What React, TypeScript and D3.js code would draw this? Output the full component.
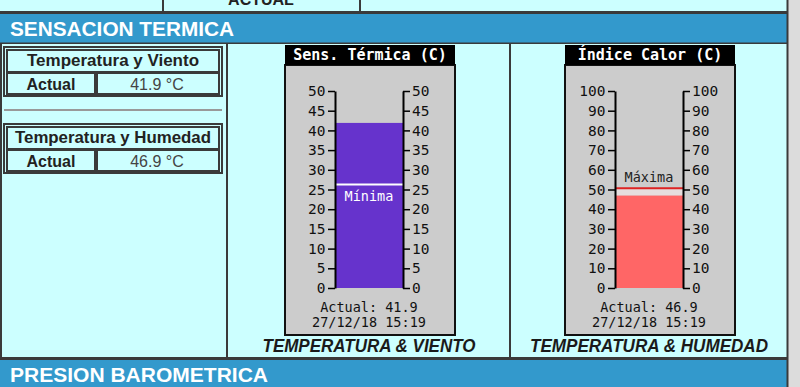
import React, { useEffect, useRef } from "react";
import * as d3 from "d3";

// ---- data ----
const sectionTitles = ["SENSACION TERMICA", "PRESION BAROMETRICA"];
const topLabel = "ACTUAL";
const tableTitles = ["Temperatura y Viento", "Temperatura y Humedad"];
const tableRowLabel = "Actual";
const tableValues = ["41.9 °C", "46.9 °C"];
const thermoTitles = ["Sens. Térmica (C)", "Índice Calor (C)"];
const thermoMax = [50, 100];
const thermoStep = [5, 10];
const actualValues = [41.9, 46.9];
const markerValues = [26.3, 50.6];
const markerLabels = ["Mínima", "Máxima"];
const timestamps = ["27/12/18 15:19", "27/12/18 15:19"];
const captions = ["TEMPERATURA & VIENTO", "TEMPERATURA & HUMEDAD"];

const CYAN = "#ccffff";
const BLUE = "#3399cc";
const DARK = "#3a3a3a";
const MONO = "'DejaVu Sans Mono', monospace";
const SANS = "'Liberation Sans', Arial, sans-serif";

const thermoX = [285, 565];
const barColors = ["#6633cc", "#ff6666"];

function Thermo({ i }: { i: number }) {
  const ref = useRef<SVGGElement>(null);
  const x0 = thermoX[i];
  const w = 170;
  const cx = x0 + 84;
  const axL = x0 + 50;
  const axR = x0 + 118;
  const y = d3.scaleLinear().domain([0, thermoMax[i]]).range([288, 91]);
  const ticks = d3.range(0, thermoMax[i] + 0.001, thermoStep[i]);

  useEffect(() => {
    const g = d3.select(ref.current);
    g.selectAll("*").remove();
    const style = (sel: any) => {
      sel.select(".domain").attr("stroke", "#000").attr("stroke-width", 2);
      sel.selectAll(".tick line").attr("stroke", "#000").attr("stroke-width", 1.5);
      sel.selectAll(".tick text")
        .attr("fill", "#111")
        .style("font-family", MONO)
        .style("font-size", "14.5px");
    };
    const left = g.append("g").attr("transform", `translate(${axL},0)`)
      .call(d3.axisLeft(y).tickValues(ticks).tickSize(7).tickSizeOuter(0).tickPadding(2.5).tickFormat(d3.format("d")) as any);
    style(left);
    const right = g.append("g").attr("transform", `translate(${axR},0)`)
      .call(d3.axisRight(y).tickValues(ticks).tickSize(7).tickSizeOuter(0).tickPadding(2).tickFormat(d3.format("d")) as any);
    style(right);
  }, [i]);

  const yA = y(actualValues[i]);
  const yM = y(markerValues[i]);
  const isMin = i === 0;
  return (
    <g>
      <rect x={x0} y={65} width={w} height={270} fill="#cccccc" stroke="#111" strokeWidth={2} />
      <rect x={x0} y={45} width={w} height={20} fill="#000" />
      <text x={x0 + w / 2} y={60} textAnchor="middle" fill="#fff" fontFamily={MONO} fontWeight="bold" fontSize={15}>
        {thermoTitles[i]}
      </text>
      {!isMin && (
        <rect x={axL} y={yM} width={axR - axL} height={yA - yM} fill="#e6dede" />
      )}
      <rect x={axL} y={yA} width={axR - axL} height={y(0) - yA} fill={barColors[i]} />
      <line x1={axL} x2={axR} y1={yM} y2={yM} stroke={isMin ? "#ffffff" : "#dd2222"} strokeWidth={2} />
      <text x={cx} y={isMin ? yM + 17 : yM - 6} textAnchor="middle" fill={isMin ? "#ffffff" : "#222"} fontFamily={MONO} fontSize={13.5}>
        {markerLabels[i]}
      </text>
      <g ref={ref} />
      <text x={cx} y={312} textAnchor="middle" fill="#111" fontFamily={MONO} fontSize={13.5}>
        {"Actual: " + actualValues[i].toFixed(1)}
      </text>
      <text x={cx} y={327} textAnchor="middle" fill="#111" fontFamily={MONO} fontSize={13.5}>
        {timestamps[i]}
      </text>
      <text x={cx} y={352} textAnchor="middle" fill="#1a1a1a" fontFamily={SANS} fontWeight="bold" fontStyle="italic" fontSize={18}
        textLength={i === 0 ? 213 : 238} lengthAdjust="spacingAndGlyphs">
        {captions[i]}
      </text>
    </g>
  );
}

function SmallTable({ i }: { i: number }) {
  const top = i === 0 ? 47 : 124;
  return (
    <g>
      <rect x={4} y={top} width={218} height={49} fill={CYAN} stroke={DARK} strokeWidth={2} />
      <rect x={7} y={top + 3} width={212} height={22} fill="none" stroke={DARK} strokeWidth={2} />
      <rect x={7} y={top + 26} width={88} height={21} fill="none" stroke={DARK} strokeWidth={2} />
      <rect x={97} y={top + 26} width={122} height={21} fill="none" stroke={DARK} strokeWidth={2} />
      <text x={113} y={top + 19} textAnchor="middle" fill="#222" fontFamily={SANS} fontWeight="bold" fontSize={16}
        textLength={i === 0 ? 172 : 196} lengthAdjust="spacingAndGlyphs">
        {tableTitles[i]}
      </text>
      <text x={51} y={top + 43} textAnchor="middle" fill="#222" fontFamily={SANS} fontWeight="bold" fontSize={16}>
        {tableRowLabel}
      </text>
      <text x={157} y={top + 43} textAnchor="middle" fill="#444" fontFamily={SANS} fontSize={16}>
        {tableValues[i]}
      </text>
    </g>
  );
}

export default function App() {
  return (
    <svg width={800} height={387} style={{ position: "fixed", left: 0, top: 0, background: "#dcdcdc" }}>
      {/* top row */}
      <rect x={0} y={0} width={787} height={12} fill={CYAN} />
      <line x1={163} x2={163} y1={0} y2={12} stroke={DARK} strokeWidth={2} />
      <line x1={360} x2={360} y1={0} y2={12} stroke={DARK} strokeWidth={2} />
      <text x={261} y={5} textAnchor="middle" fill="#222" fontFamily={SANS} fontWeight="bold" fontSize={16}>
        {topLabel}
      </text>
      {/* header band */}
      <rect x={0} y={12} width={787} height={32} fill={BLUE} />
      <line x1={0} x2={787} y1={12.5} y2={12.5} stroke={DARK} strokeWidth={3} />
      <line x1={0} x2={787} y1={43.5} y2={43.5} stroke={DARK} strokeWidth={2} />
      <text x={10} y={36} fill="#fff" fontFamily={SANS} fontWeight="bold" fontSize={20} textLength={224} lengthAdjust="spacingAndGlyphs">
        {sectionTitles[0]}
      </text>
      {/* content */}
      <rect x={0} y={44} width={787} height={313} fill={CYAN} />
      <line x1={1} x2={1} y1={44} y2={357} stroke={DARK} strokeWidth={2} />
      <line x1={227} x2={227} y1={44} y2={357} stroke={DARK} strokeWidth={2} />
      <line x1={510} x2={510} y1={44} y2={357} stroke={DARK} strokeWidth={2} />
      <SmallTable i={0} />
      <line x1={4} x2={222} y1={110} y2={110} stroke="#999" strokeWidth={2} />
      <SmallTable i={1} />
      <Thermo i={0} />
      <Thermo i={1} />
      {/* bottom band */}
      <rect x={0} y={358} width={787} height={29} fill={BLUE} />
      <line x1={0} x2={787} y1={358.5} y2={358.5} stroke={DARK} strokeWidth={3} />
      <text x={10} y={382} fill="#fff" fontFamily={SANS} fontWeight="bold" fontSize={20} textLength={258} lengthAdjust="spacingAndGlyphs">
        {sectionTitles[1]}
      </text>
      <line x1={787.5} x2={787.5} y1={0} y2={387} stroke={DARK} strokeWidth={2} />
    </svg>
  );
}
